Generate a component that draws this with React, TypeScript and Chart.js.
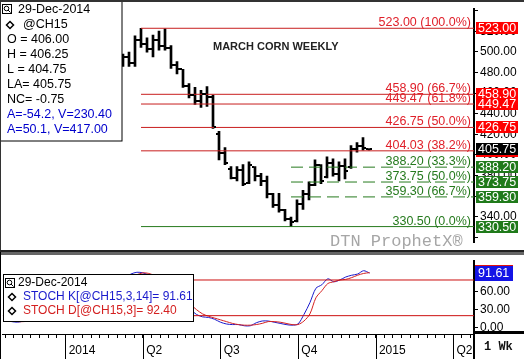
import React, { useEffect, useRef } from 'react';
import { Chart, registerables } from 'chart.js';

Chart.register(...registerables);

const FONT = '"Liberation Sans", Arial, sans-serif';
const MONO = '"Liberation Mono", "Courier New", monospace';

// ---- price data (weekly bars, x = weeks since 1-Jan-2014) ----
const WEEKS = [10, 11, 12, 13, 14, 15, 16, 17, 18, 19, 20, 21, 22, 23, 24, 25, 26, 27, 28, 29, 30, 31, 32, 33, 34, 35, 36, 37, 38, 39, 40, 41, 42, 43, 44, 45, 46, 47, 48, 49, 50, 51];
const OPEN = [490, 495, 489, 512, 508, 503, 512, 506, 504, 487, 483, 467, 458, 452, 459, 456, 420, 402, 386, 378, 385, 373, 388, 380, 375, 362, 351, 347, 338, 336, 352, 362, 371, 390, 379, 392, 382, 389, 388, 406, 409, 406.0];
const HIGH = [498.0, 499.9, 515.6, 523.0, 513.7, 516.5, 520.2, 522.5, 506.3, 490.6, 483.2, 469.3, 465.6, 462.8, 466.5, 458.2, 423.0, 407.3, 388.8, 388.8, 390.7, 393.4, 388.8, 382.3, 379.5, 362.9, 362.9, 347.2, 339.7, 356.4, 365.7, 374.0, 395.3, 390.7, 398.1, 396.2, 393.4, 396.2, 409.2, 412.0, 417.0, 406.25];
const LOW = [486.0, 486.0, 486.0, 504.5, 499.9, 495.2, 501.7, 501.7, 484.1, 478.6, 465.6, 455.4, 449.0, 446.2, 447.1, 425.8, 395.3, 390.6, 376.8, 374.9, 370.3, 372.1, 374.9, 370.3, 358.3, 349.0, 344.4, 336.0, 330.5, 335.1, 347.2, 356.4, 370.3, 372.1, 377.7, 379.5, 374.9, 376.8, 387.0, 402.7, 404.6, 404.75];
const CLOSE = [495, 489, 512, 508, 503, 512, 506, 504, 487, 483, 467, 458, 452, 459, 456, 427, 402, 392, 378, 385, 372, 390, 380, 375, 362, 351, 347, 338, 335, 352, 362, 371, 390, 375, 392, 382, 389, 384, 406, 409, 406.5, 405.75];

// ---- stochastics ----
const STOCH_WEEKS = [-10, -9, -8, -7, -6, -5, -4, -3, -2, -1, 0, 1, 2, 3, 4, 5, 6, 7, 8, 9, 10, 11, 12, 13, 14, 15, 16, 17, 18, 19, 20, 21, 22, 23, 24, 25, 26, 27, 28, 29, 30, 31, 32, 33, 34, 35, 36, 37, 38, 39, 40, 41, 42, 43, 44, 45, 46, 47, 48, 49, 50, 51];
const STOCH_K = [12, 10, 9, 11, 14, 20, 28, 38, 45, 50, 55, 60, 58, 62, 68, 72, 75, 80, 84, 86, 84, 90, 93, 92, 88, 80, 72, 70, 60, 48, 38, 30, 22, 18, 17, 14, 9, 6, 5, 5, 3, 3, 8, 11, 11, 9, 7, 5, 4, 6, 22, 42, 66, 72, 82, 77, 80, 85, 88, 90, 95.6, 91.61];
const STOCH_D = [13, 12, 10, 10, 11, 15, 21, 29, 37, 44, 50, 55, 58, 60, 63, 67, 72, 76, 80, 83, 85, 87, 89, 92, 91, 87, 80, 74, 67, 59, 49, 39, 30, 23, 19, 16, 13, 10, 7, 5, 4, 4, 5, 7, 10, 10, 9, 7, 5, 5, 11, 23, 50, 62, 74, 77, 80, 81, 84, 88, 91, 92.4];
const STOCH_LEVELS = [80, 20];

// ---- retracement levels ----
const RED_LEVELS = [523.0, 458.9, 449.47, 426.75, 404.03];
const RED_LABELS = ['523.00 (100.0%)', '458.90 (66.7%)', '449.47 (61.8%)', '426.75 (50.0%)', '404.03 (38.2%)'];
const GREEN_LEVELS = [388.2, 373.75, 359.3];
const GREEN_LABELS = ['388.20 (33.3%)', '373.75 (50.0%)', '359.30 (66.7%)'];
const BASE_LEVEL = 330.5;
const BASE_LABEL = '330.50 (0.0%)';
const RED_START_WEEK = 13;
const GREEN_START_WEEK = 38;
const LAST_PRICE = 405.75;

const PRICE_TICKS = [320, 340, 360, 380, 400, 420, 440, 460, 480, 500, 520, 540];
const STOCH_TICKS = [0, 10, 20, 30, 40, 50, 60, 70, 80, 90, 100];
const QUARTER_WEEKS = [0, 13, 26, 39, 52, 65];
const QUARTER_LABELS = ['2014', 'Q2', 'Q3', 'Q4', '2015', 'Q2'];

const TITLE = 'MARCH CORN WEEKLY';
const LEGEND_MAIN = ['O = 406.00', 'H = 406.25', 'L = 404.75', 'LA= 405.75', 'NC= -0.75'];
const LEGEND_BLUE = ['A=-54.2, V=230.40', 'A=50.1, V=417.00'];

const X_MIN = -10.5;
const X_MAX = 68.5;

const RED_LINE = '#c81e1e';
const RED_TEXT = '#e0202a';
const GREEN = '#267a1e';

function drawIcon(ctx: CanvasRenderingContext2D, x: number, y: number) {
  ctx.save();
  ctx.strokeStyle = '#000';
  ctx.lineWidth = 1;
  ctx.strokeRect(x + 0.5, y + 0.5, 9, 9);
  ctx.beginPath();
  ctx.arc(x + 4.5, y + 4.5, 2.3, 0, Math.PI * 2);
  ctx.stroke();
  ctx.beginPath();
  ctx.moveTo(x + 6, y + 6);
  ctx.lineTo(x + 8.5, y + 8.5);
  ctx.stroke();
  ctx.restore();
}

function drawDiamond(ctx: CanvasRenderingContext2D, cx: number, cy: number) {
  ctx.save();
  ctx.strokeStyle = '#000';
  ctx.lineWidth = 1.5;
  ctx.beginPath();
  ctx.moveTo(cx, cy - 3.5);
  ctx.lineTo(cx + 3.5, cy);
  ctx.lineTo(cx, cy + 3.5);
  ctx.lineTo(cx - 3.5, cy);
  ctx.closePath();
  ctx.stroke();
  ctx.restore();
}

function axisBox(ctx: CanvasRenderingContext2D, yc: number, fill: string, text: string, h = 12, w = 42) {
  const top = Math.round(yc - h / 2);
  ctx.fillStyle = fill;
  ctx.fillRect(476, top, w, h);
  ctx.fillStyle = '#fff';
  ctx.font = `12.5px ${FONT}`;
  ctx.textAlign = 'left';
  ctx.textBaseline = 'middle';
  ctx.fillText(text, 478, top + h / 2 + 0.5);
}

const ohlcTicks = {
  id: 'ohlcTicks',
  afterDatasetsDraw(chart: any) {
    const { ctx, scales } = chart;
    const xs = scales.x;
    const ys = scales.y;
    ctx.save();
    ctx.fillStyle = '#000';
    WEEKS.forEach((w, i) => {
      const px = Math.round(xs.getPixelForValue(w));
      const yo = Math.round(ys.getPixelForValue(OPEN[i]));
      const yc = Math.round(ys.getPixelForValue(CLOSE[i]));
      ctx.fillRect(px - 3, yo - 1, 2, 2);
      ctx.fillRect(px + 1, yc - 1, 2, 2);
    });
    ctx.restore();
  },
};

const mainOverlay = {
  id: 'mainOverlay',
  afterDraw(chart: any) {
    const { ctx, scales } = chart;
    const ys = scales.y;
    ctx.save();
    // retracement labels
    ctx.font = `12.5px ${FONT}`;
    ctx.textAlign = 'right';
    ctx.textBaseline = 'alphabetic';
    ctx.fillStyle = RED_TEXT;
    RED_LEVELS.forEach((v, i) => ctx.fillText(RED_LABELS[i], 471, ys.getPixelForValue(v) - 2));
    ctx.fillStyle = GREEN;
    GREEN_LEVELS.forEach((v, i) => ctx.fillText(GREEN_LABELS[i], 471, ys.getPixelForValue(v) - 2));
    ctx.fillText(BASE_LABEL, 471, ys.getPixelForValue(BASE_LEVEL) - 2);

    // title
    ctx.font = `bold 11px ${FONT}`;
    ctx.fillStyle = '#222';
    ctx.textAlign = 'left';
    ctx.textBaseline = 'middle';
    ctx.fillText(TITLE, 213, 47);

    // watermark
    ctx.font = `17px ${MONO}`;
    ctx.fillStyle = '#a6a6a6';
    ctx.fillText('DTN ProphetX\u00AE', 330, 241);

    // right axis value boxes
    RED_LEVELS.forEach((v) => axisBox(ctx, ys.getPixelForValue(v), '#ff0000', v.toFixed(2)));
    axisBox(ctx, ys.getPixelForValue(LAST_PRICE), '#000000', LAST_PRICE.toFixed(2));
    GREEN_LEVELS.forEach((v) => axisBox(ctx, ys.getPixelForValue(v), '#1f7a1a', v.toFixed(2)));
    axisBox(ctx, ys.getPixelForValue(BASE_LEVEL), '#1f7a1a', BASE_LEVEL.toFixed(2));

    // legend box
    ctx.fillStyle = '#fff';
    ctx.fillRect(0, 0, 122, 141);
    ctx.strokeStyle = '#000';
    ctx.lineWidth = 1;
    ctx.strokeRect(0.5, 0.5, 121.5, 140.5);
    drawIcon(ctx, 2, 4);
    drawDiamond(ctx, 10, 25);
    ctx.font = `12.5px ${FONT}`;
    ctx.textAlign = 'left';
    ctx.textBaseline = 'middle';
    ctx.fillStyle = '#000';
    ctx.fillText('29-Dec-2014', 18, 10);
    ctx.fillText('@CH15', 23, 25);
    LEGEND_MAIN.forEach((t, i) => ctx.fillText(t, 7, 40 + i * 15));
    ctx.fillStyle = '#0000cc';
    LEGEND_BLUE.forEach((t, i) => ctx.fillText(t, 7, 115 + i * 15));

    // frame
    ctx.fillStyle = '#333';
    ctx.fillRect(0, 0, 524, 2);
    ctx.fillRect(0, 0, 1, 252);
    ctx.fillStyle = '#222';
    ctx.fillRect(0, 250, 524, 2);
    ctx.restore();
  },
};

const stochOverlay = {
  id: 'stochOverlay',
  afterDraw(chart: any) {
    const { ctx, scales, chartArea } = chart;
    const xs = scales.x;
    const ys = scales.y;
    ctx.save();
    // quarter boundaries
    ctx.fillStyle = '#000';
    QUARTER_WEEKS.forEach((w) => {
      const px = Math.round(xs.getPixelForValue(w));
      ctx.fillRect(px, chartArea.bottom, 1, 107 - chartArea.bottom);
    });
    // value boxes
    const kLast = STOCH_K[STOCH_K.length - 1];
    const dLast = STOCH_D[STOCH_D.length - 1];
    const drawBox = (v: number, fill: string) => {
      const top = Math.round(ys.getPixelForValue(v) - 7.5);
      ctx.fillStyle = fill;
      ctx.fillRect(475, top, 38, 15);
      ctx.fillStyle = '#fff';
      ctx.font = `12.5px ${FONT}`;
      ctx.textAlign = 'left';
      ctx.textBaseline = 'middle';
      ctx.fillText(v.toFixed(2), 478, top + 8);
    };
    drawBox(dLast, '#e01010');
    drawBox(kLast, '#1414e6');

    // legend box
    ctx.fillStyle = '#fff';
    ctx.fillRect(3, 22, 190, 47);
    ctx.strokeStyle = '#000';
    ctx.lineWidth = 1;
    ctx.strokeRect(3.5, 22.5, 190, 47);
    drawIcon(ctx, 5, 26);
    drawDiamond(ctx, 12, 45);
    drawDiamond(ctx, 12, 59);
    ctx.font = `12px ${FONT}`;
    ctx.textAlign = 'left';
    ctx.textBaseline = 'middle';
    ctx.fillStyle = '#000';
    ctx.fillText('29-Dec-2014', 18, 31);
    ctx.fillStyle = '#1a1acc';
    ctx.fillText(`STOCH K[@CH15,3,14]= ${kLast.toFixed(2)}`, 23, 45);
    ctx.fillStyle = '#d42020';
    ctx.fillText(`STOCH D[@CH15,3]= ${dLast.toFixed(2)}`, 23, 59);

    // frame
    ctx.fillStyle = '#666';
    ctx.fillRect(0, 0, 524, 3);
    ctx.fillStyle = '#000';
    ctx.fillRect(0, 0, 1, 107);
    ctx.fillRect(474, chartArea.bottom - 3, 50, 3);
    ctx.fillRect(473, chartArea.bottom, 2, 107 - chartArea.bottom);
    ctx.font = `bold 12px ${MONO}`;
    ctx.fillStyle = '#111';
    ctx.textAlign = 'left';
    ctx.textBaseline = 'middle';
    ctx.fillText('1 Wk', 484, 95);
    ctx.restore();
  },
};

export default function App() {
  const priceRef = useRef<HTMLCanvasElement>(null);
  const stochRef = useRef<HTMLCanvasElement>(null);

  useEffect(() => {
    document.body.style.margin = '0';
    const lineDs = (start: number, v: number, color: string, dash: number[] = []) => ({
      type: 'line' as const,
      data: [{ x: start, y: v }, { x: X_MAX, y: v }],
      borderColor: color,
      borderWidth: 1,
      borderDash: dash,
      pointRadius: 0,
      fill: false,
    });

    const price = new Chart(priceRef.current!, {
      type: 'bar',
      data: {
        datasets: [
          ...RED_LEVELS.map((v) => lineDs(RED_START_WEEK, v, RED_LINE)),
          ...GREEN_LEVELS.map((v) => lineDs(GREEN_START_WEEK, v, GREEN, [12, 6])),
          lineDs(RED_START_WEEK, BASE_LEVEL, GREEN),
          {
            type: 'bar' as const,
            data: WEEKS.map((w, i) => ({ x: w, y: [LOW[i], HIGH[i]] })),
            backgroundColor: '#000',
            borderWidth: 0,
            barThickness: 2,
          } as any,
        ],
      },
      options: {
        animation: false,
        responsive: false,
        maintainAspectRatio: false,
        devicePixelRatio: 1,
        layout: { padding: { top: 5, bottom: 2, left: 0, right: 0 } },
        plugins: { legend: { display: false }, tooltip: { enabled: false } },
        scales: {
          x: { type: 'linear', min: X_MIN, max: X_MAX, offset: false, display: false, grid: { offset: false } },
          y: {
            position: 'right',
            min: 314.76,
            max: 541.51,
            afterBuildTicks: (axis: any) => {
              axis.ticks = PRICE_TICKS.map((v) => ({ value: v }));
            },
            afterFit: (axis: any) => {
              axis.width = 50;
            },
            grid: { drawOnChartArea: false, drawTicks: true, tickLength: 4, color: '#000' },
            border: { display: true, color: '#000', width: 2 },
            ticks: {
              padding: 2,
              color: '#000',
              font: { family: FONT, size: 12 },
              callback: (v: any) => (v >= 340 && v <= 520 ? Number(v).toFixed(2) : ''),
            },
          },
        },
      } as any,
      plugins: [ohlcTicks, mainOverlay],
    });

    const minorTicks: number[] = [];
    for (let k = -7; k <= 47; k++) minorTicks.push((k * 13) / 9);

    const stoch = new Chart(stochRef.current!, {
      type: 'line',
      data: {
        datasets: [
          ...STOCH_LEVELS.map((v) => ({
            data: [{ x: X_MIN, y: v }, { x: X_MAX, y: v }],
            borderColor: '#cc1010',
            borderWidth: 1,
            pointRadius: 0,
          })),
          {
            data: STOCH_WEEKS.map((w, i) => ({ x: w, y: STOCH_D[i] })),
            borderColor: '#d42020',
            borderWidth: 1,
            pointRadius: 0,
            tension: 0.3,
          },
          {
            data: STOCH_WEEKS.map((w, i) => ({ x: w, y: STOCH_K[i] })),
            borderColor: '#1a1acc',
            borderWidth: 1,
            pointRadius: 0,
            tension: 0.3,
          },
        ],
      },
      options: {
        animation: false,
        responsive: false,
        maintainAspectRatio: false,
        devicePixelRatio: 1,
        layout: { padding: { top: 3, bottom: 0, left: 0, right: 0 } },
        plugins: { legend: { display: false }, tooltip: { enabled: false } },
        scales: {
          x: {
            type: 'linear',
            min: X_MIN,
            max: X_MAX,
            offset: false,
            afterBuildTicks: (axis: any) => {
              axis.ticks = minorTicks.map((v) => ({ value: v }));
            },
            afterFit: (axis: any) => {
              axis.height = 25;
            },
            grid: { drawOnChartArea: false, drawTicks: true, tickLength: 4, color: '#000' },
            border: { display: true, color: '#000', width: 1 },
            ticks: {
              autoSkip: false,
              maxRotation: 0,
              align: 'start',
              padding: 5,
              color: '#000',
              font: { family: FONT, size: 12 },
              callback: (v: any) => {
                const q = Number(v) / 13;
                if (Math.abs(q - Math.round(q)) < 1e-6) {
                  const idx = QUARTER_WEEKS.indexOf(Math.round(q) * 13);
                  return idx >= 0 ? ' ' + QUARTER_LABELS[idx] : '';
                }
                return '';
              },
            },
          },
          y: {
            position: 'right',
            min: -10.85,
            max: 111.6,
            afterBuildTicks: (axis: any) => {
              axis.ticks = STOCH_TICKS.map((v) => ({ value: v }));
            },
            afterFit: (axis: any) => {
              axis.width = 50;
            },
            grid: { drawOnChartArea: false, drawTicks: true, tickLength: 4, color: '#000' },
            border: { display: true, color: '#000', width: 2 },
            ticks: {
              padding: 2,
              color: '#000',
              font: { family: FONT, size: 12 },
              callback: (v: any) => (Number(v) % 30 === 0 ? Number(v).toFixed(2) : ''),
            },
          },
        },
      } as any,
      plugins: [stochOverlay],
    });

    return () => {
      price.destroy();
      stoch.destroy();
    };
  }, []);

  return (
    <div style={{ position: 'relative', width: 524, height: 359, background: '#fff', overflow: 'hidden' }}>
      <canvas ref={priceRef} width={524} height={252} style={{ position: 'absolute', left: 0, top: 0, width: 524, height: 252 }} />
      <canvas ref={stochRef} width={524} height={107} style={{ position: 'absolute', left: 0, top: 252, width: 524, height: 107 }} />
    </div>
  );
}
